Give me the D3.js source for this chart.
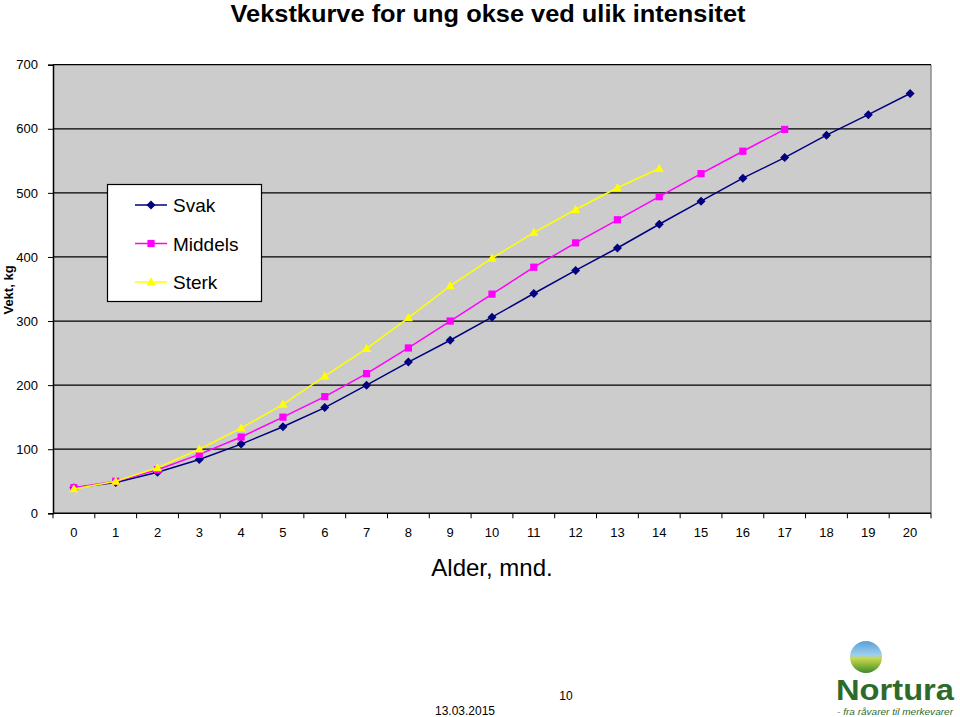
<!DOCTYPE html>
<html><head><meta charset="utf-8">
<script src="https://cdn.jsdelivr.net/npm/d3@7"></script>
<style>body{margin:0;background:#fff;}svg{display:block;font-family:"Liberation Sans",Arial,sans-serif;}</style>
</head><body>
<script>
const months = d3.range(0, 21);
const svak    = [40,48,64,84,108,135,165,200,236,270,306,343,379,414,451,487,523,555,590,622,655];
const middels = [40,50,68,92,119,150,182,218,258,300,342,384,422,458,494,530,565,599];
const sterk   = [38,50,71,100,133,170,214,257,305,355,398,438,474,508,538];
const yTicks  = [0,100,200,300,400,500,600,700];
const seriesNames = ["Svak","Middels","Sterk"];
const seriesColors = ["#000080","#ff00ff","#ffff00"];
const seriesData = [svak, middels, sterk];
const markerPaths = [
  "M0,-4.5L4.5,0L0,4.5L-4.5,0Z",
  "M-3.6,-3.6H3.6V3.6H-3.6Z",
  "M0,-4.8L4.6,3.4H-4.6Z"
];

const W=960,H=717;
const svg=d3.select("body").append("svg").attr("width",W).attr("height",H);
const L=53,R=931,T=64.7,B=513.3;
const x=d3.scaleBand().domain(months).range([L,R]);
const y=d3.scaleLinear().domain([0,700]).range([B,T]);

svg.append("rect").attr("x",L).attr("y",T).attr("width",R-L).attr("height",B-T).attr("fill","#cccccc");
svg.append("line").attr("x1",R).attr("x2",R).attr("y1",T).attr("y2",B).attr("stroke","#8c8c8c").attr("stroke-width",1.5);
svg.append("g").selectAll("line").data(yTicks.slice(1)).join("line")
  .attr("x1",L).attr("x2",R).attr("y1",d=>y(d)).attr("y2",d=>y(d)).attr("stroke","#000").attr("stroke-width",1.2);

const ya=svg.append("g").attr("transform",`translate(${L},0)`)
  .call(d3.axisLeft(y).tickValues(yTicks).tickSize(5).tickPadding(10));
ya.select(".domain").attr("stroke","#000").attr("stroke-width",1.5);
ya.selectAll("text").attr("font-size",13).attr("fill","#000");
ya.selectAll(".tick line").attr("stroke","#000");

const xa=svg.append("g").attr("transform",`translate(0,${B})`);
xa.append("line").attr("x1",L).attr("x2",R).attr("stroke","#000").attr("stroke-width",1.5);
xa.selectAll("line.t").data(d3.range(0,22)).join("line").attr("class","t")
  .attr("x1",i=>L+i*x.step()).attr("x2",i=>L+i*x.step()).attr("y1",0).attr("y2",5).attr("stroke","#000");
xa.selectAll("text").data(months).join("text")
  .attr("x",d=>x(d)+x.bandwidth()/2).attr("y",24).attr("text-anchor","middle").attr("font-size",13).text(d=>d);

const line=d3.line().x((d,i)=>x(i)+x.bandwidth()/2).y(d=>y(d));
seriesData.forEach((data,k)=>{
  svg.append("path").datum(data).attr("d",line).attr("fill","none").attr("stroke",seriesColors[k]).attr("stroke-width",1.5);
  svg.append("g").selectAll("path").data(data).join("path")
    .attr("transform",(d,i)=>`translate(${x(i)+x.bandwidth()/2},${y(d)})`)
    .attr("d",markerPaths[k]).attr("fill",seriesColors[k]);
});

const lg=svg.append("g");
lg.append("rect").attr("x",107.5).attr("y",184.5).attr("width",154).attr("height",117).attr("fill","#fff").attr("stroke","#000").attr("stroke-width",1.2);
seriesNames.forEach((n,k)=>{
  const yy=205+k*38.5;
  lg.append("line").attr("x1",135).attr("x2",167).attr("y1",yy).attr("y2",yy).attr("stroke",seriesColors[k]).attr("stroke-width",1.5);
  lg.append("path").attr("transform",`translate(151,${yy})`).attr("d",markerPaths[k]).attr("fill",seriesColors[k]);
  lg.append("text").attr("x",173).attr("y",yy+7).attr("font-size",19).text(n);
});

svg.append("text").attr("x",488).attr("y",22).attr("text-anchor","middle").attr("font-size",24).attr("font-weight","bold").attr("textLength",515).attr("lengthAdjust","spacingAndGlyphs").text("Vekstkurve for ung okse ved ulik intensitet");
svg.append("text").attr("transform","translate(13,290) rotate(-90)").attr("text-anchor","middle").attr("font-size",13).attr("font-weight","bold").text("Vekt, kg");
svg.append("text").attr("x",492).attr("y",576).attr("text-anchor","middle").attr("font-size",24).text("Alder, mnd.");

svg.append("text").attr("x",465).attr("y",715).attr("text-anchor","middle").attr("font-size",12).text("13.03.2015");
svg.append("text").attr("x",566).attr("y",700).attr("text-anchor","middle").attr("font-size",12).text("10");

const lo=svg.append("g");
const defs=svg.append("defs");
const gr=defs.append("linearGradient").attr("id","lg1").attr("x1",0).attr("x2",0).attr("y1",0).attr("y2",1);
gr.append("stop").attr("offset","0").attr("stop-color","#5aa0d8");
gr.append("stop").attr("offset","0.45").attr("stop-color","#9fd0f0");
gr.append("stop").attr("offset","0.55").attr("stop-color","#c8d84a");
gr.append("stop").attr("offset","1").attr("stop-color","#3f8a2c");
lo.append("circle").attr("cx",866).attr("cy",657).attr("r",16).attr("fill","url(#lg1)");
lo.append("text").attr("x",836).attr("y",700).attr("font-size",30).attr("font-weight","bold").attr("fill","#2e6b2a").attr("textLength",118).attr("lengthAdjust","spacingAndGlyphs").text("Nortura");
lo.append("text").attr("x",837).attr("y",715).attr("font-size",9).attr("font-style","italic").attr("fill","#2e6b2a").attr("textLength",116).attr("lengthAdjust","spacingAndGlyphs").text("- fra råvarer til merkevarer");
</script>
</body></html>
